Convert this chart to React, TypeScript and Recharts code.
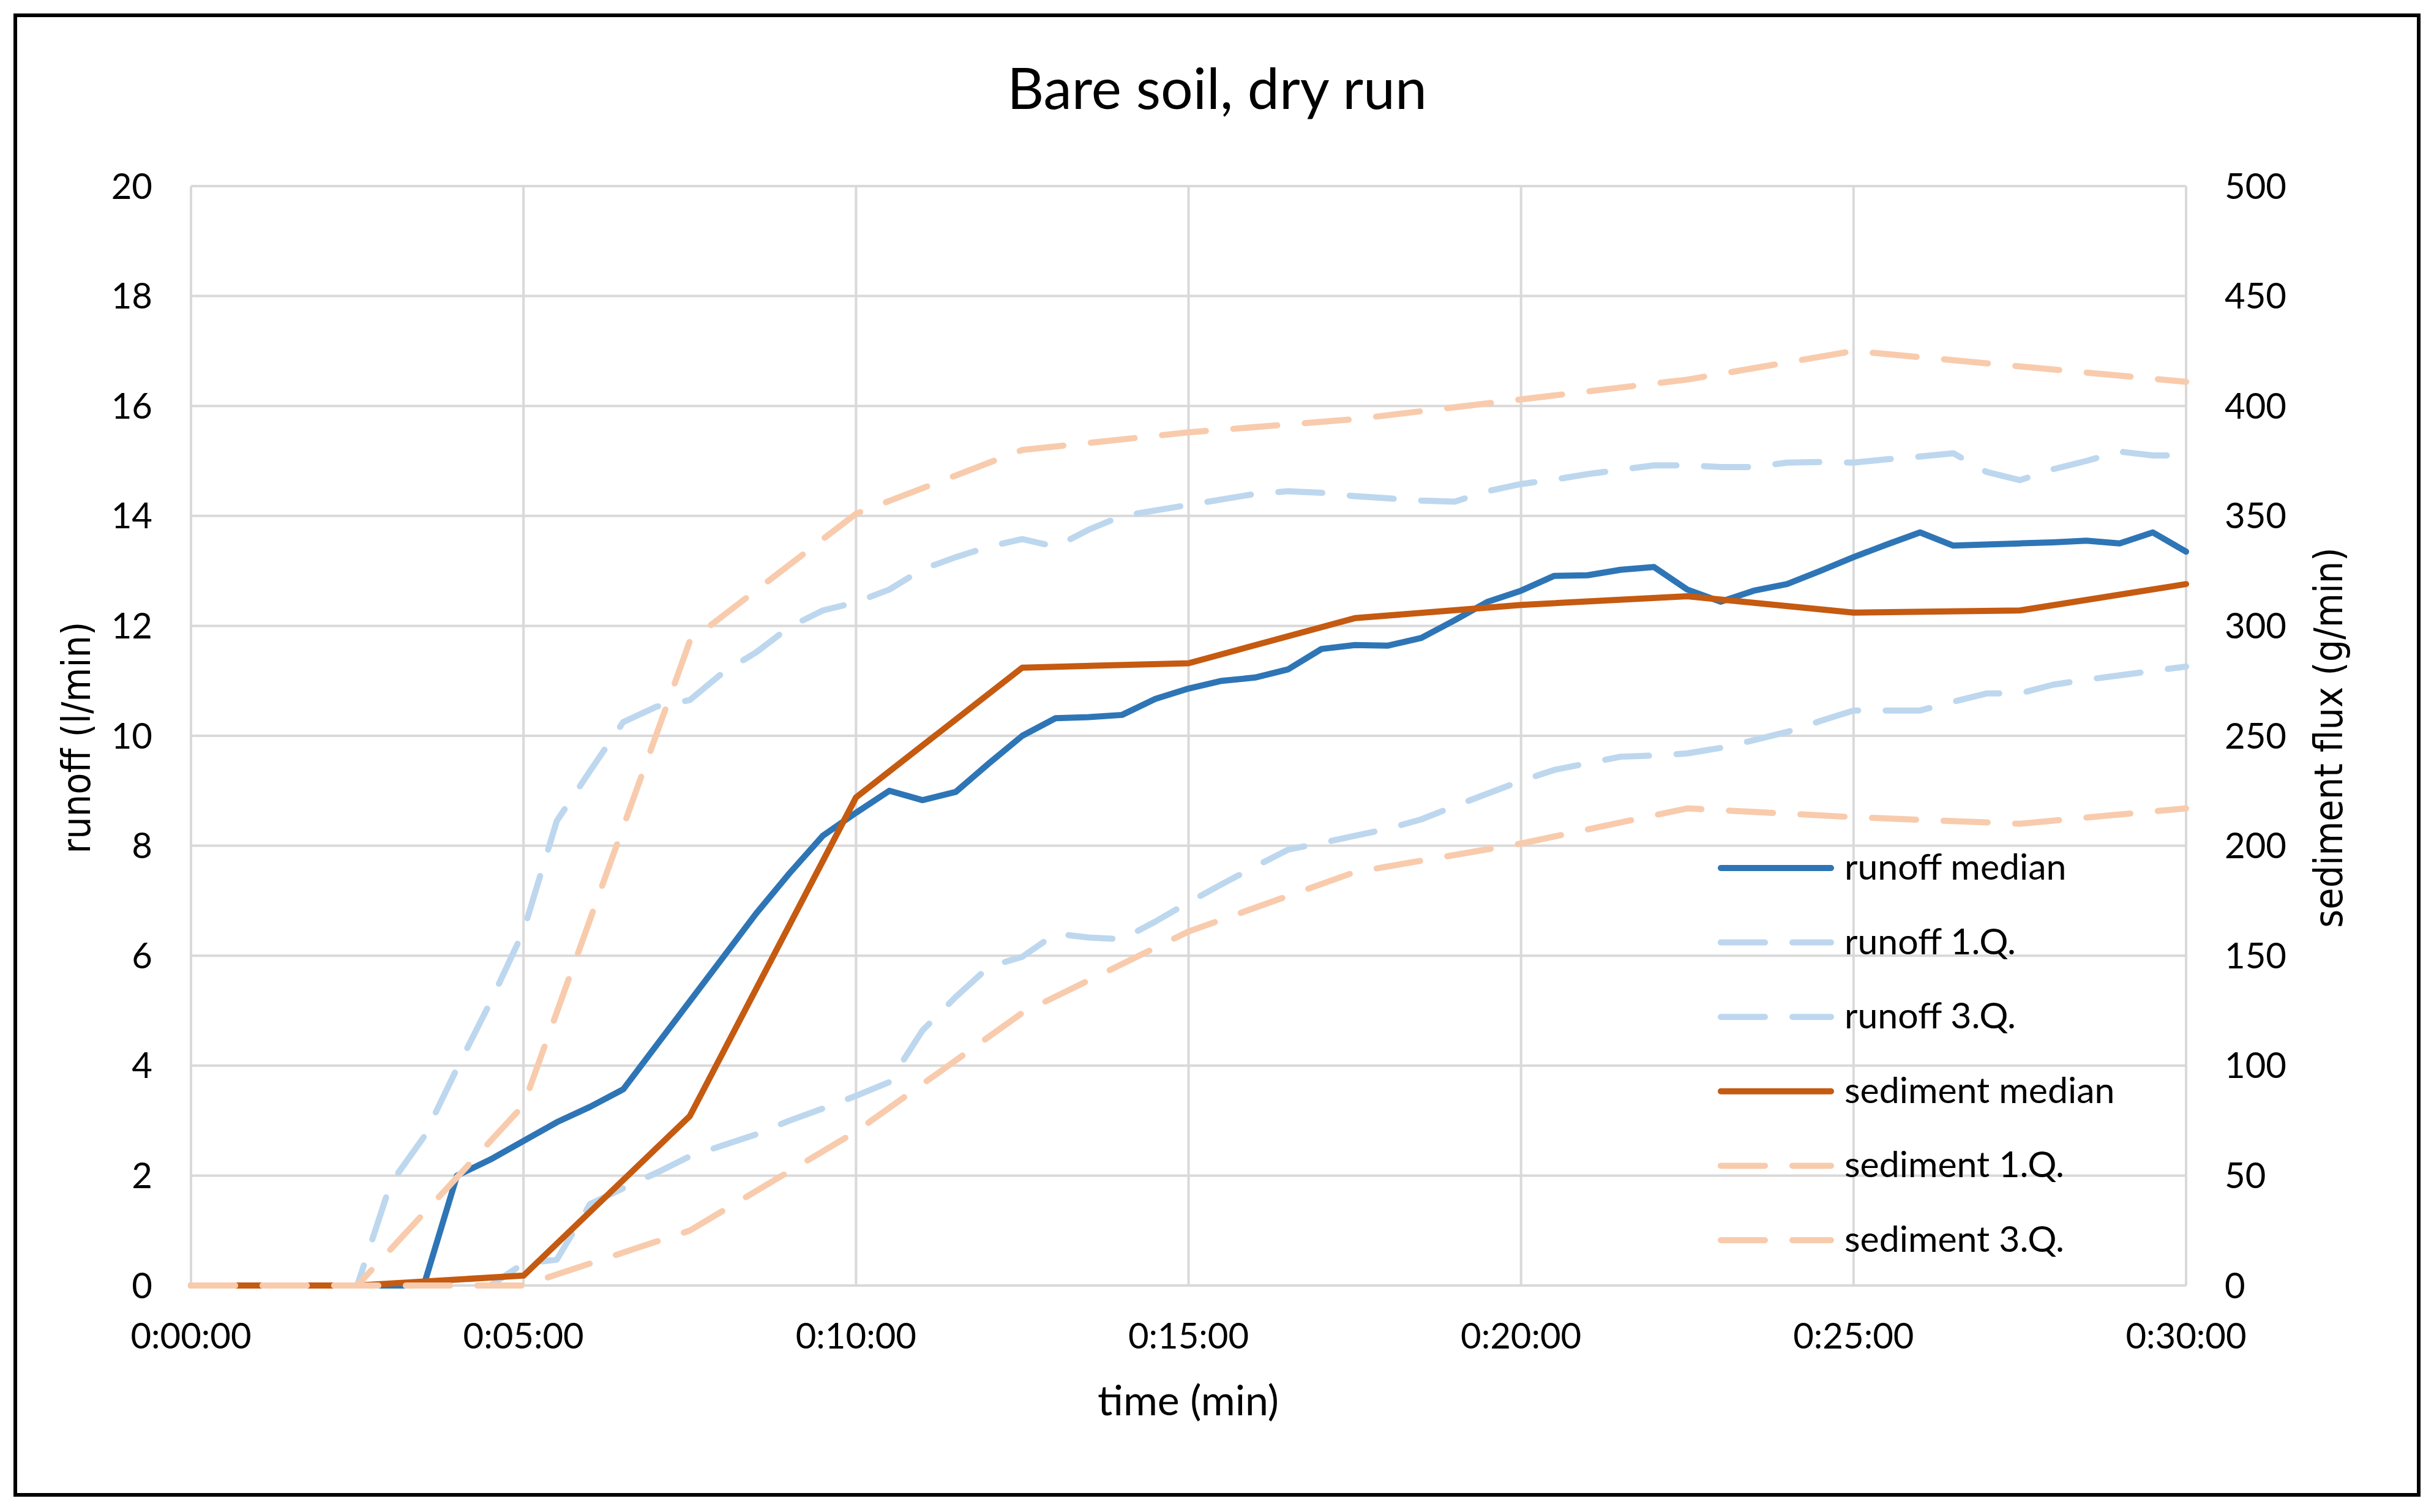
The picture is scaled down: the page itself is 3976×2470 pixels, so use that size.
import React from 'react';
import { LineChart, Line, XAxis, YAxis, CartesianGrid, Legend } from 'recharts';

const W = 3976;
const H = 2470;

// time in minutes (runoff sampled every 30 s)
const TIME_MIN = [0, 0.5, 1, 1.5, 2, 2.5, 3, 3.5, 4, 4.5, 5, 5.5, 6, 6.5, 7, 7.5, 8, 8.5, 9, 9.5, 10, 10.5, 11, 11.5, 12, 12.5, 13, 13.5, 14, 14.5, 15, 15.5, 16, 16.5, 17, 17.5, 18, 18.5, 19, 19.5, 20, 20.5, 21, 21.5, 22, 22.5, 23, 23.5, 24, 24.5, 25, 25.5, 26, 26.5, 27, 27.5, 28, 28.5, 29, 29.5, 30];

// runoff (l/min)
const RUNOFF_MEDIAN = [0, 0, 0, 0, 0, 0, 0, 0, 2.0, 2.29, 2.63, 2.97, 3.25, 3.57, 4.37, 5.17, 5.97, 6.77, 7.5, 8.18, 8.6, 9.0, 8.83, 8.98, 9.5, 10.0, 10.32, 10.34, 10.38, 10.67, 10.86, 11.0, 11.06, 11.21, 11.58, 11.65, 11.64, 11.78, 12.1, 12.44, 12.64, 12.91, 12.92, 13.02, 13.07, 12.66, 12.44, 12.64, 12.76, 13.0, 13.25, 13.48, 13.7, 13.46, 13.48, 13.5, 13.52, 13.55, 13.5, 13.7, 13.35];
const RUNOFF_Q1 = [0, 0, 0, 0, 0, 0, 0, 0, 0, 0, 0.4, 0.47, 1.48, 1.77, 2.05, 2.35, 2.55, 2.75, 3.0, 3.22, 3.45, 3.7, 4.64, 5.25, 5.8, 5.98, 6.4, 6.33, 6.3, 6.62, 6.97, 7.3, 7.62, 7.93, 8.05, 8.18, 8.31, 8.48, 8.72, 8.95, 9.18, 9.38, 9.5, 9.62, 9.64, 9.68, 9.78, 9.92, 10.07, 10.27, 10.46, 10.46, 10.46, 10.62, 10.77, 10.77, 10.93, 11.02, 11.1, 11.18, 11.26];
const RUNOFF_Q3 = [0, 0, 0, 0, 0, 0, 1.85, 2.7, 3.95, 5.15, 6.45, 8.45, 9.36, 10.25, 10.53, 10.65, 11.15, 11.52, 11.98, 12.28, 12.43, 12.66, 13.03, 13.25, 13.44, 13.58, 13.44, 13.75, 14.0, 14.1, 14.2, 14.3, 14.4, 14.45, 14.42, 14.36, 14.32, 14.28, 14.26, 14.45, 14.58, 14.66, 14.76, 14.84, 14.92, 14.92, 14.89, 14.89, 14.97, 14.98, 14.97, 15.03, 15.08, 15.14, 14.8, 14.65, 14.85, 15.0, 15.17, 15.1, 15.1];

// sediment flux (g/min), sampled every 2.5 min
const SEDIMENT_TIMES = [0, 2.5, 5, 7.5, 10, 12.5, 15, 17.5, 20, 22.5, 25, 27.5, 30];
const SEDIMENT_MEDIAN = [0, 0, 4.5, 77, 222, 281, 283, 303.5, 309.5, 313.5, 306, 307, 319];
const SEDIMENT_Q1 = [0, 0, 0, 25, 70, 124, 161, 188, 201, 217, 213, 210, 217];
const SEDIMENT_Q3 = [0, 0, 82, 293, 351, 380, 388, 394, 403, 412, 425, 418, 411];

const X_TICKS = [0, 5, 10, 15, 20, 25, 30];
const LEFT_TICKS = [0, 2, 4, 6, 8, 10, 12, 14, 16, 18, 20];
const RIGHT_TICKS = [0, 50, 100, 150, 200, 250, 300, 350, 400, 450, 500];

const data = TIME_MIN.map((t, i) => {
  const si = SEDIMENT_TIMES.indexOf(t);
  return {
    t,
    runoffMedian: RUNOFF_MEDIAN[i],
    runoffQ1: RUNOFF_Q1[i],
    runoffQ3: RUNOFF_Q3[i],
    sedimentMedian: si >= 0 ? SEDIMENT_MEDIAN[si] : null,
    sedimentQ1: si >= 0 ? SEDIMENT_Q1[si] : null,
    sedimentQ3: si >= 0 ? SEDIMENT_Q3[si] : null,
  };
});

const BLUE = '#2E75B6';
const LIGHT_BLUE = '#BDD7EE';
const ORANGE = '#C55A11';
const LIGHT_ORANGE = '#F8CBAD';
const DASH = '72 45';
const LINE_W = 10;

const SERIES = [
  { key: 'runoffMedian', name: 'runoff median', color: BLUE, dashed: false, axis: 'left' },
  { key: 'runoffQ1', name: 'runoff 1.Q.', color: LIGHT_BLUE, dashed: true, axis: 'left' },
  { key: 'runoffQ3', name: 'runoff 3.Q.', color: LIGHT_BLUE, dashed: true, axis: 'left' },
  { key: 'sedimentMedian', name: 'sediment median', color: ORANGE, dashed: false, axis: 'right' },
  { key: 'sedimentQ1', name: 'sediment 1.Q.', color: LIGHT_ORANGE, dashed: true, axis: 'right' },
  { key: 'sedimentQ3', name: 'sediment 3.Q.', color: LIGHT_ORANGE, dashed: true, axis: 'right' },
];

const CALIBRI = 'Lato, "Open Sans", sans-serif';
const VERDANA = '"DejaVu Sans Condensed", "DejaVu Sans", sans-serif';
const tickStyle = { fontFamily: CALIBRI, fontSize: 58, fill: '#000' };

const fmtTime = (t: number) => `0:${String(t).padStart(2, '0')}:00`;

const renderLegend = () => (
  <svg width={760} height={760} style={{ overflow: 'visible', display: 'block' }}>
    {SERIES.map((s, i) => {
      const cy = 58 + i * 121.6;
      return (
        <g key={s.key}>
          <line
            x1={5}
            x2={185}
            y1={cy}
            y2={cy}
            stroke={s.color}
            strokeWidth={LINE_W}
            strokeLinecap="round"
            strokeDasharray={s.dashed ? DASH : undefined}
          />
          <text x={207} y={cy + 19} fontFamily={CALIBRI} fontSize={59} fill="#000">
            {s.name}
          </text>
        </g>
      );
    })}
  </svg>
);

export default function App() {
  return (
    <div
      style={{
        position: 'absolute',
        left: 0,
        top: 0,
        width: W,
        height: H,
        background: '#fff',
        overflow: 'hidden',
      }}
    >
      <LineChart width={W} height={H} data={data} margin={{ top: 304, right: 255, bottom: 270, left: 162 }}>
        <CartesianGrid yAxisId="left" stroke="#D9D9D9" strokeWidth={4} />
        <XAxis
          dataKey="t"
          type="number"
          domain={[0, 30]}
          ticks={X_TICKS}
          interval={0}
          tickFormatter={fmtTime}
          axisLine={false}
          tickLine={false}
          tickSize={0}
          tickMargin={62}
          height={100}
          tick={tickStyle}
        />
        <YAxis
          yAxisId="left"
          domain={[0, 20]}
          ticks={LEFT_TICKS}
          interval={0}
          axisLine={false}
          tickLine={false}
          tickSize={0}
          tickMargin={63}
          width={150}
          tick={tickStyle}
        />
        <YAxis
          yAxisId="right"
          orientation="right"
          domain={[0, 500]}
          ticks={RIGHT_TICKS}
          interval={0}
          axisLine={false}
          tickLine={false}
          tickSize={0}
          tickMargin={63}
          width={150}
          tick={{ ...tickStyle, textAnchor: 'start' }}
        />
        <Legend
          layout="vertical"
          align="center"
          verticalAlign="middle"
          width={760}
          height={760}
          wrapperStyle={{ left: 2806, top: 1360, width: 760, height: 760 }}
          content={renderLegend}
        />
        {SERIES.map((s) => (
          <Line
            key={s.key}
            yAxisId={s.axis}
            dataKey={s.key}
            name={s.name}
            type="linear"
            stroke={s.color}
            strokeWidth={LINE_W}
            strokeLinecap="round"
            strokeLinejoin="round"
            strokeDasharray={s.dashed ? DASH : undefined}
            dot={false}
            activeDot={false}
            connectNulls
            isAnimationActive={false}
          />
        ))}
      </LineChart>
      <svg
        width={W}
        height={H}
        style={{ position: 'absolute', left: 0, top: 0, pointerEvents: 'none' }}
      >
        <rect x={25} y={25} width={3926} height={2417} fill="none" stroke="#000" strokeWidth={6} />
        <text x={1988} y={178} textAnchor="middle" fontFamily={CALIBRI} fontSize={93} fill="#000">
          Bare soil, dry run
        </text>
        <text x={1941} y={2312} textAnchor="middle" fontFamily={CALIBRI} fontSize={68} fill="#000">
          time (min)
        </text>
        <text
          transform="translate(147,1205) rotate(-90)"
          textAnchor="middle"
          fontFamily={VERDANA}
          fontSize={64}
          fill="#000"
        >
          runoff (l/min)
        </text>
        <text
          transform="translate(3826,1205) rotate(-90)"
          textAnchor="middle"
          fontFamily={VERDANA}
          fontSize={64}
          fill="#000"
        >
          sediment flux (g/min)
        </text>
      </svg>
    </div>
  );
}
